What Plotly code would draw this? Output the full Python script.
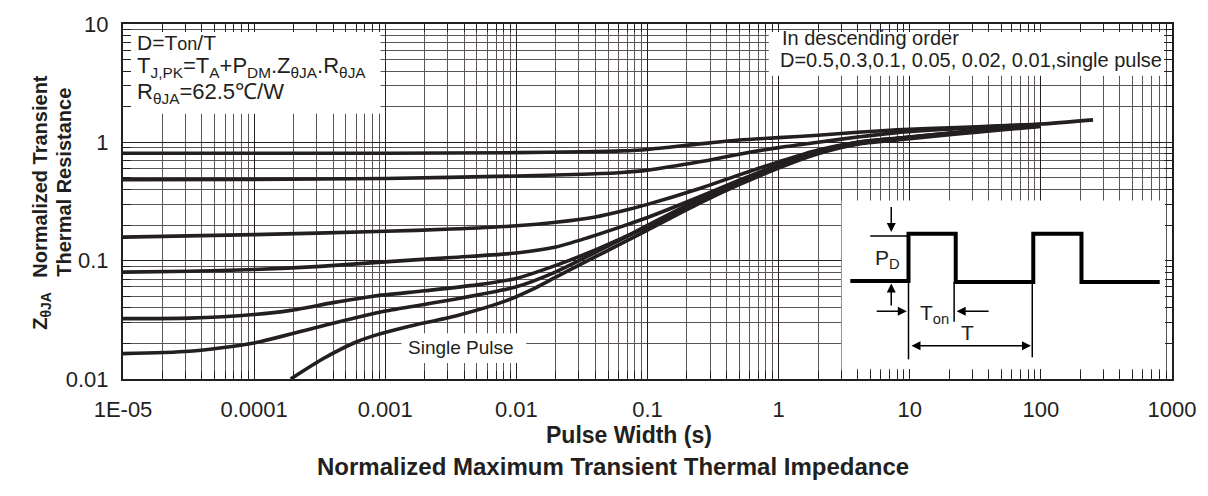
import plotly.graph_objects as go

# Normalized transient thermal impedance curves (duty cycles and single pulse)
d05_t = [1e-5, 1e-3, 0.01, 0.032, 0.064, 0.1, 0.25, 0.5, 1, 2, 4, 8, 23, 47, 100, 250]
d05_z = [0.809, 0.809, 0.818, 0.832, 0.847, 0.871, 0.970, 1.047, 1.096, 1.148, 1.216, 1.274, 1.334, 1.380, 1.429, 1.549]

d03_t = [1e-5, 1e-4, 1e-3, 0.01, 0.032, 0.064, 0.1, 0.25, 0.5, 1, 2, 4, 8, 23, 47, 100]
d03_z = [0.484, 0.486, 0.495, 0.519, 0.537, 0.556, 0.582, 0.684, 0.794, 0.902, 1.0, 1.109, 1.208, 1.303, 1.365, 1.419]

d01_t = [1e-5, 1e-4, 1e-3, 3.2e-3, 0.01, 0.02, 0.04, 0.064, 0.1, 0.25, 0.5, 1, 2, 4, 8, 23, 47, 100]
d01_z = [0.158, 0.166, 0.177, 0.185, 0.197, 0.211, 0.234, 0.263, 0.299, 0.407, 0.531, 0.684, 0.861, 1.0, 1.084, 1.216, 1.312, 1.406]

d005_t = [1e-5, 3.2e-5, 1e-4, 3.2e-4, 1e-3, 3.2e-3, 0.01, 0.02, 0.035, 0.064, 0.1, 0.25, 0.5, 1, 2, 4, 8, 23, 47, 100]
d005_z = [0.0800, 0.0813, 0.0841, 0.0895, 0.0977, 0.1064, 0.1161, 0.1303, 0.1563, 0.195, 0.2317, 0.3467,
          0.4786, 0.6457, 0.8414, 1.0, 1.084, 1.211, 1.303, 1.396]

d002_t = [1e-5, 3.2e-5, 1e-4, 1.9e-4, 4e-4, 8.1e-4, 2e-3, 5e-3, 0.01, 0.02, 0.04, 0.064, 0.1, 0.25, 0.5,
          1, 2, 4, 8, 23, 47, 100]
d002_z = [0.0324, 0.0327, 0.0351, 0.0380, 0.0442, 0.0501, 0.0556, 0.0624, 0.0708, 0.0912, 0.1230, 0.1549,
          0.1928, 0.3162, 0.4519, 0.6237, 0.8166, 0.9772, 1.0715, 1.1940, 1.2823, 1.3804]

d001_t = [1e-5, 3.2e-5, 1e-4, 3.2e-4, 1e-3, 3.2e-3, 0.01, 0.02, 0.04, 0.064, 0.1, 0.25, 0.5, 1, 2, 4, 8, 23, 47, 100]
d001_z = [0.01637, 0.01714, 0.02014, 0.0278, 0.0375, 0.0467, 0.0601, 0.0804, 0.1175, 0.1531, 0.1986, 0.3327,
          0.4699, 0.6412, 0.8337, 0.9908, 1.0765, 1.1967, 1.2853, 1.3772]

single_t = [1.9e-4, 3.4e-4, 6e-4, 8.1e-4, 1.45e-3, 3.5e-3, 8.3e-3, 0.014, 0.02, 0.035, 0.064, 0.1, 0.25, 0.5,
            1, 2, 4, 8, 23, 47, 100]
single_z = [0.01, 0.01496, 0.02054, 0.02314, 0.02751, 0.03424, 0.04570, 0.05893, 0.07250, 0.09989, 0.1406,
            0.1811, 0.3062, 0.4385, 0.6067, 0.8000, 0.9638, 1.0471, 1.1776, 1.2647, 1.3646]

series = [
    ("D=0.5", d05_t, d05_z),
    ("D=0.3", d03_t, d03_z),
    ("D=0.1", d01_t, d01_z),
    ("D=0.05", d005_t, d005_z),
    ("D=0.02", d002_t, d002_z),
    ("D=0.01", d001_t, d001_z),
    ("Single Pulse", single_t, single_z),
]

x_major = [1e-5, 1e-4, 1e-3, 1e-2, 1e-1, 1, 10, 100, 1000]
x_labels = ["1E-05", "0.0001", "0.001", "0.01", "0.1", "1", "10", "100", "1000"]
y_major = [0.01, 0.1, 1, 10]
y_labels = ["0.01", "0.1", "1", "10"]

INK = "#231f20"
FONT = "Liberation Sans, Arial, sans-serif"

# page geometry (pixels)
W, H = 1208, 496
ML, MR, MT, MB = 123, 34, 23, 117
PW, PH = W - ML - MR, H - MT - MB


def px(X):
    return (X - ML) / PW


def py(Y):
    return (H - MB - Y) / PH


def minor_vals(lo_exp, hi_exp):
    vals = []
    for e in range(lo_exp, hi_exp):
        for m in range(2, 10):
            vals.append(m * 10.0 ** e)
    return vals


fig = go.Figure()
for name, t, z in series:
    fig.add_trace(go.Scatter(
        x=t, y=z, mode="lines", name=name,
        line=dict(color=INK, width=3.6, shape="spline", smoothing=0.7),
        showlegend=False, hoverinfo="skip",
    ))

axis_common = dict(
    type="log", showline=True, mirror="allticks", linecolor=INK, linewidth=2,
    ticks="inside", ticklen=8, tickcolor=INK, tickwidth=1,
    showgrid=True, gridcolor=INK, gridwidth=1, zeroline=False,
    tickfont=dict(family=FONT, size=22, color=INK),
)

fig.update_xaxes(
    **axis_common,
    range=[-5, 3], tickvals=x_major, ticktext=x_labels, ticklabelstandoff=10,
    minor=dict(tickvals=minor_vals(-5, 3), showgrid=True, gridcolor="#5a5455",
               gridwidth=1, ticks="inside", ticklen=8, tickcolor=INK),
)
fig.update_yaxes(
    **axis_common,
    range=[-2, 1], tickvals=y_major, ticktext=y_labels, ticklabelstandoff=8,
    minor=dict(tickvals=minor_vals(-2, 1), showgrid=True, gridcolor="#5a5455",
               gridwidth=1, ticks="inside", ticklen=8, tickcolor=INK),
)

shapes = []


def white_box(x0, y0, x1, y1):
    shapes.append(dict(type="rect", xref="paper", yref="paper",
                       x0=px(x0), x1=px(x1), y0=py(y1), y1=py(y0),
                       fillcolor="white", line=dict(width=0), layer="above"))


def seg(x0, y0, x1, y1, width=1.5):
    shapes.append(dict(type="line", xref="paper", yref="paper",
                       x0=px(x0), x1=px(x1), y0=py(y0), y1=py(y1),
                       line=dict(color="black", width=width), layer="above"))


# white panels; grid stubs left along the frame read as the axis ticks
white_box(131, 31, 381, 113)         # formula box
white_box(770, 31, 1166, 75)         # order legend box
white_box(402, 333, 527, 363)        # single pulse label
white_box(843, 200, 1167, 369)       # pulse diagram

# pulse train
train = [(851.7, 280.7), (910, 280.7), (910, 233.3), (957.3, 233.3), (957.3, 281.7),
         (1035, 281.7), (1035, 233.3), (1083.3, 233.3), (1083.3, 281.7), (1161.7, 281.7)]
path = "M " + " L ".join(f"{px(a)},{py(b)}" for a, b in train)
shapes.append(dict(type="path", xref="paper", yref="paper", path=path,
                   line=dict(color="black", width=4), layer="above"))

seg(871.7, 235.7, 910, 235.7)
seg(910, 281.7, 910, 359.3)
seg(955.7, 281.7, 955.7, 321.7)
seg(1034, 281.7, 1034, 357.3)

fig.update_layout(shapes=shapes)

ann = []


def text(X, Y, s, size=20, xanchor="left"):
    ann.append(dict(x=px(X), y=py(Y), xref="paper", yref="paper", text=s,
                    showarrow=False, xanchor=xanchor, yanchor="middle",
                    font=dict(family=FONT, size=size, color=INK)))


def arrow(hx, hy, tx, ty, both=False):
    ann.append(dict(x=px(hx), y=py(hy), xref="paper", yref="paper", text="",
                    showarrow=True, ax=tx - hx, ay=ty - hy, axref="pixel", ayref="pixel",
                    arrowhead=2, arrowsize=1.2, arrowwidth=1.5, arrowcolor="black",
                    arrowside="end+start" if both else "end", standoff=0, startstandoff=0,
                    startarrowhead=2, startarrowsize=1.2))


def title(X, Y, s, size, angle=0):
    ann.append(dict(x=px(X), y=py(Y), xref="paper", yref="paper", text=s,
                    showarrow=False, textangle=angle,
                    font=dict(family=FONT, size=size, color=INK)))


text(135, 42, "D=T<span style='font-size:18px'>on</span>/T", 21)
text(135, 66, "T<sub>J,PK</sub>=T<sub>A</sub>+P<sub>DM</sub>.Z<sub>θJA</sub>.R<sub>θJA</sub>", 22)
text(135, 92, "R<sub>θJA</sub>=62.5℃/W", 22)

text(781, 37, "In descending order", 20)
text(779, 59, "D=0.5,0.3,0.1, 0.05, 0.02, 0.01,single pulse", 20)

text(462, 347, "Single Pulse", 19, xanchor="center")

text(889, 259, "P<sub>D</sub>", 21, xanchor="center")
text(936, 314, "T<sub>on</sub>", 21, xanchor="center")
text(969, 332, "T", 21, xanchor="center")

arrow(892.7, 231.7, 892.7, 205)
arrow(892.7, 283.3, 892.7, 306.7)
arrow(908.3, 311, 876.7, 311)
arrow(958.3, 311, 991.7, 311)
arrow(1032.7, 345.7, 911.7, 345.7, both=True)

# axis titles
title(630, 450, "<b>Pulse Width (s)</b>", 23)
title(614, 482, "<b>Normalized Maximum Transient Thermal Impedance</b>", 24)
title(26, 176, "<b>Normalized Transient</b>", 20, -90)
title(50, 182, "<b>Thermal Resistance</b>", 20, -90)
title(26, 332, "<b>Z<sub>θJA</sub></b>", 20, -90)

fig.update_layout(
    annotations=ann,
    width=W, height=H,
    margin=dict(l=ML, r=MR, t=MT, b=MB),
    paper_bgcolor="white", plot_bgcolor="white",
    font=dict(family=FONT, color=INK),
)

fig.write_html("out.html")
